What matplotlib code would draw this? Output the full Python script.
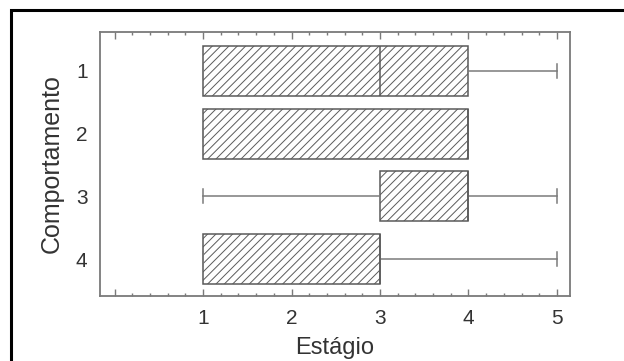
import matplotlib
matplotlib.use("Agg")
import matplotlib.pyplot as plt
from matplotlib.patches import Rectangle
from matplotlib.ticker import MultipleLocator

categories = [1, 2, 3, 4]
q1 = [1, 1, 3, 1]
medians = [3, 4, 4, 3]
q3 = [4, 4, 4, 3]
whis_low = [1, 1, 1, 1]
whis_high = [5, 4, 5, 5]
xtick_values = [0, 1, 2, 3, 4, 5]
xtick_labels = ["", "1", "2", "3", "4", "5"]

plt.rcParams['font.family'] = ['Liberation Sans', 'DejaVu Sans']
plt.rcParams['hatch.linewidth'] = 0.7
plt.rcParams['hatch.color'] = '#6a6a6a'

fig = plt.figure(figsize=(6.24, 3.61), dpi=100)
fig.patch.set_facecolor('white')
ax = fig.add_axes([100/624, 1-296/361, 470/624, 264/361])

stats = []
for c, a, m, b, lo, hi in zip(categories, q1, medians, q3, whis_low, whis_high):
    stats.append(dict(label=str(c), q1=a, med=m, q3=b, whislo=lo, whishi=hi, fliers=[]))

gray = '#7a7a7a'
bp = ax.bxp(stats, positions=categories, vert=False, widths=0.8, patch_artist=True,
            showfliers=False, capwidths=0.22,
            boxprops=dict(facecolor='white', edgecolor='#5a5a5a', linewidth=1.1, hatch='////'),
            medianprops=dict(color='#5a5a5a', linewidth=1.1),
            whiskerprops=dict(color=gray, linewidth=1.1),
            capprops=dict(color=gray, linewidth=1.1))

ax.set_xlim(-0.164, 5.147)
ax.set_ylim(4.59, 0.378)

ax.set_xticks(xtick_values)
ax.set_xticklabels(xtick_labels)
ax.xaxis.set_minor_locator(MultipleLocator(0.2))
ax.tick_params(axis='x', which='both', direction='in', top=True, bottom=True,
               color=gray, width=1.0, labelsize=15, labelcolor='#333333', pad=9)
ax.tick_params(axis='x', which='major', length=5)
ax.tick_params(axis='x', which='minor', length=2.5)

ax.set_yticks(categories)
ax.set_yticklabels([str(c) for c in categories])
ax.tick_params(axis='y', which='both', length=0, labelsize=15, labelcolor='#333333', pad=9)

for s in ax.spines.values():
    s.set_color(gray)
    s.set_linewidth(1.3)

ax.set_xlabel('Estágio', fontsize=17, color='#333333', labelpad=7)
ax.set_ylabel('Comportamento', fontsize=18, color='#333333', labelpad=9)

# outer frame
fig.patches.append(Rectangle((11/624, -0.1), 1.2, 1.1 - 10/361,
                             transform=fig.transFigure, fill=False,
                             edgecolor='black', linewidth=2.2))

fig.savefig('out.png', dpi=100)
